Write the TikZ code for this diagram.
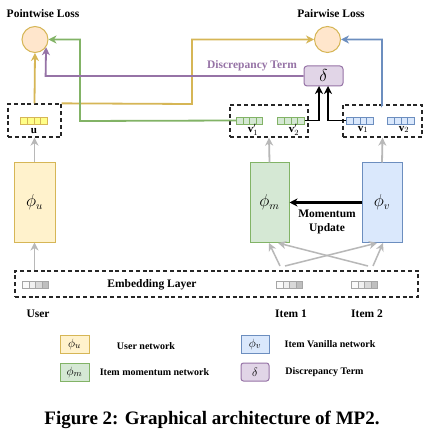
\documentclass[tikz,border=0pt]{standalone}
\usepackage{fontspec}
\setmainfont{Liberation Serif}
\usetikzlibrary{arrows.meta,calc}
\definecolor{yfill}{HTML}{FFF2CC}\definecolor{ydraw}{HTML}{D6B656}
\definecolor{gfill}{HTML}{D5E8D4}\definecolor{gdraw}{HTML}{82B366}
\definecolor{bfill}{HTML}{DAE8FC}\definecolor{bdraw}{HTML}{6C8EBF}
\definecolor{pfill}{HTML}{E1D5E7}\definecolor{pdraw}{HTML}{9673A6}
\definecolor{cfill}{HTML}{FFE6CC}\definecolor{ucell}{HTML}{FFFF88}
\definecolor{garrow}{HTML}{B8B8B8}
\newcommand{\cellvec}[8]{%
  \node[minimum width=26.5pt,minimum height=7pt,inner sep=0pt,draw=#4,line width=0.7pt,
    path picture={
      \foreach \k/\c in {0/#5,1/#6,2/#7,3/#8}{%
        \fill[\c] ([xshift=\k*6.625pt]path picture bounding box.south west) rectangle ++(6.625pt,7pt);
        \draw[#4,line width=0.7pt] ([xshift=\k*6.625pt]path picture bounding box.south west) -- ++(0pt,7pt);}
    }] (#1) at (#2,#3) {};}
\tikzset{
  lbl/.style={font=\fontsize{11.5}{13}\selectfont\bfseries,inner sep=0pt},
  leg/.style={font=\fontsize{10}{12}\selectfont\bfseries,inner sep=0pt},
  arr/.style={-{Stealth[length=8pt,width=8pt,inset=2.5pt]},line width=1.8pt},
  dbox/.style={draw=black!85,dashed,dash pattern=on 4pt off 2.8pt,line width=1.3pt,inner sep=0pt},
  net/.style={draw,line width=1pt,inner sep=0pt,font=\fontsize{16}{18}\selectfont},
  lossc/.style={circle,draw=ydraw,fill=cfill,line width=1pt,minimum size=26pt,inner sep=0pt},
  vlab/.style={font=\fontsize{11}{13}\selectfont,inner sep=0pt},
  legbox/.style={net,minimum height=18pt,font=\fontsize{13}{15}\selectfont},
}
\begin{document}
\begin{tikzpicture}[x=1pt,y=-1pt]
\useasboundingbox (0,0) rectangle (427,435);
\fill[white] (0,0) rectangle (427,435);
% losses
\node[lbl] (pwl) at (43,14) {Pointwise Loss};
\node[lbl] (prl) at (331,14) {Pairwise Loss};
\node[lossc] (lossL) at (35,39.5) {};
\node[lossc] (lossR) at (327.5,39.5) {};
% delta
\node[net,draw=pdraw,fill=pfill,rounded corners=3pt,minimum width=39pt,minimum height=20pt] (delta) at (323.5,76) {$\delta$};
\node[lbl,text=pdraw] (dterm) at (252,66) {Discrepancy Term};
% dashed vector boxes
\node[dbox,minimum width=53pt,minimum height=33pt] (ubox) at (34.5,120.5) {};
\node[dbox,minimum width=78pt,minimum height=32pt] (gbox) at (269,121) {};
\node[dbox,minimum width=79pt,minimum height=32pt] (bbox) at (382.5,121) {};
\cellvec{uv}{34}{120.5}{ydraw}{ucell}{ucell}{ucell}{ucell}
\cellvec{vp1}{249.5}{120.5}{gdraw}{gfill}{gfill}{gfill}{gfill}
\cellvec{vp2}{291}{120.5}{gdraw}{gfill}{gfill}{gfill}{gfill}
\cellvec{v1}{360}{120.5}{bdraw}{bfill}{bfill}{bfill}{bfill}
\cellvec{v2}{401}{120.5}{bdraw}{bfill}{bfill}{bfill}{bfill}
\node[vlab] (ul) at (34,131) {$\mathbf{u}$};
\node[vlab] (vp1l) at (253,129.5) {$\mathbf{v}'_1$};
\node[vlab] (vp2l) at (294,129.5) {$\mathbf{v}'_2$};
\node[vlab] (v1l) at (363,129.5) {$\mathbf{v}_1$};
\node[vlab] (v2l) at (404,129.5) {$\mathbf{v}_2$};
% networks
\node[net,draw=ydraw,fill=yfill,minimum width=41pt,minimum height=79pt] (phiu) at (34.5,202.5) {$\phi_u$};
\node[net,draw=gdraw,fill=gfill,minimum width=39pt,minimum height=79pt] (phim) at (269.5,202.5) {$\phi_m$};
\node[net,draw=bdraw,fill=bfill,minimum width=40pt,minimum height=79pt] (phiv) at (382,202.5) {$\phi_v$};
\node[lbl,align=center] (mom) at (327,222) {Momentum\\[1pt]Update};
% embedding layer
\node[dbox,minimum width=403pt,minimum height=26pt] (emb) at (216.5,284) {};
\cellvec{eu}{35.5}{284.5}{gray!70}{gray!4}{gray!12}{gray!30}{gray!50}
\cellvec{ei1}{289.5}{284.5}{gray!70}{gray!4}{gray!12}{gray!30}{gray!50}
\cellvec{ei2}{364.5}{284.5}{gray!70}{gray!4}{gray!12}{gray!30}{gray!50}
\node[lbl] (embl) at (152,284.5) {Embedding Layer};
\node[lbl] (user) at (38,314) {User};
\node[lbl] (it1) at (291,314) {Item 1};
\node[lbl] (it2) at (367,314) {Item 2};
% gray arrows
\draw[arr,garrow] (phiu.south |- emb.north) -- (phiu.south);
\draw[arr,garrow] (phiu.north) -- (ubox.south);
\draw[arr,garrow] (phim.north) -- (gbox.south);
\draw[arr,garrow] (phiv.north) -- (bbox.south);
\coordinate (a1) at (280,266); \coordinate (a2) at (285,266);
\coordinate (b1) at (368,266); \coordinate (b2) at (373,266);
\draw[arr,garrow,line width=1.5pt] (a1) -- (269,243);
\draw[arr,garrow,line width=1.5pt] (a2) -- (377,243);
\draw[arr,garrow,line width=1.5pt] (b1) -- (278,243);
\draw[arr,garrow,line width=1.5pt] (b2) -- (383,243);
% momentum
\draw[arr,black,line width=2.2pt] (phiv.west) -- (phim.east);
% coloured connectors
\draw[arr,draw=ydraw,line width=1.8pt] (ubox.north) -- (lossL.south);
\draw[arr,draw=ydraw,line width=1.8pt] (ubox.north east) -- (192,104) -- (192,39.5) -- (lossR.west);
\draw[arr,draw=gdraw,line width=1.8pt] (vp1.west) -- (80,121) -- (80,39.5) -- (lossL.east);
\draw[arr,draw=pdraw,line width=1.8pt] (delta.west) -- (45.6,76) -- (lossL.-35);
\draw[arr,draw=bdraw,line width=1.8pt] (bbox.north) -- (382,105) -- (382,39.5) -- (lossR.east);
\draw[arr,black] (vp2.east) -- (319,120.5) -- (319,86);
\draw[arr,black] (v1.west) -- (328,120.5) -- (328,86);
% legend
\node[legbox,draw=ydraw,fill=yfill,minimum width=29pt] (lgu) at (74.5,344) {$\phi_u$};
\node[legbox,draw=gdraw,fill=gfill,minimum width=29pt] (lgm) at (74.5,372) {$\phi_m$};
\node[legbox,draw=bdraw,fill=bfill,minimum width=28pt] (lgv) at (255,344) {$\phi_v$};
\node[legbox,draw=pdraw,fill=pfill,rounded corners=2.5pt,minimum width=28pt] (lgd) at (255,372) {$\delta$};
\node[leg] (tu) at (146,346) {User network};
\node[leg] (tm) at (154.5,372) {Item momentum network};
\node[leg] (tv) at (330,344) {Item Vanilla network};
\node[leg] (td) at (324.5,372) {Discrepancy Term};
% caption
\node[font=\fontsize{19}{22}\selectfont\bfseries,inner sep=0pt] (cap) at (212,420) {Figure 2: Graphical architecture of MP2.};
\end{tikzpicture}
\end{document}
